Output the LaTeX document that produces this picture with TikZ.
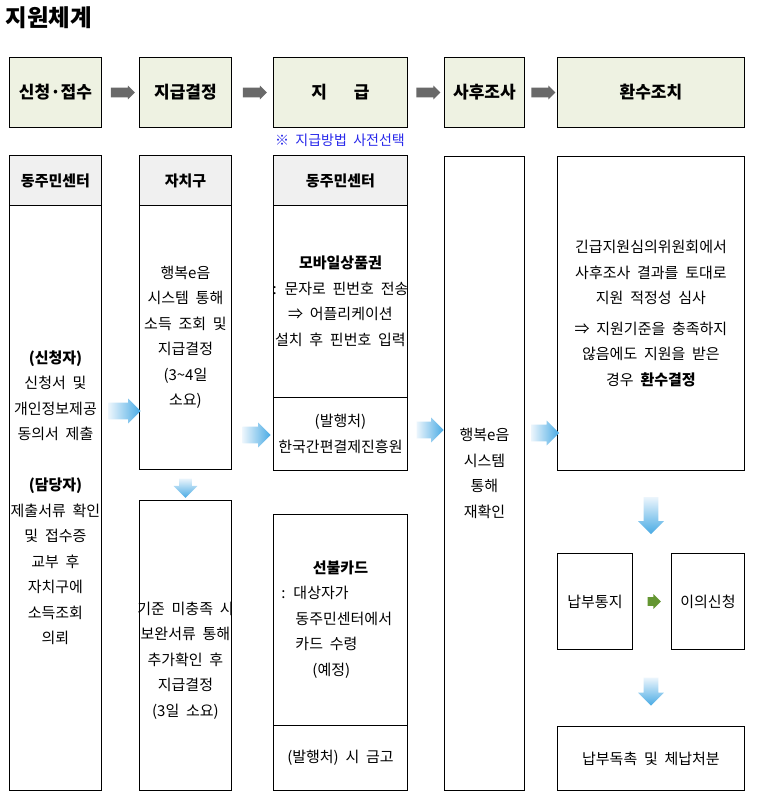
\documentclass[tikz,border=0pt]{standalone}
\usepackage{fontspec}
\setmainfont{Noto Sans CJK KR}[WordSpace=2]
\usetikzlibrary{shapes.arrows,calc}
\definecolor{stagegreen}{RGB}{238,242,226}
\definecolor{officegray}{RGB}{240,240,240}
\definecolor{arrowgray}{RGB}{105,105,105}
\definecolor{arrowblue}{RGB}{72,170,228}
\definecolor{arrowpale}{RGB}{235,245,252}
\definecolor{arrowgreen}{RGB}{100,150,50}
\definecolor{noteblue}{RGB}{40,40,235}
\tikzset{
  stage/.style={draw, fill=stagegreen, anchor=north west, inner sep=0pt, minimum height=70pt, font=\fontsize{17}{20}\selectfont\bfseries},
  office/.style={draw, fill=officegray, anchor=north west, inner sep=0pt, minimum height=50pt, font=\fontsize{15}{18}\selectfont\bfseries},
  cell/.style={draw, anchor=north west, inner sep=0pt, align=center, font=\fontsize{15}{25.5}\selectfont},
  words/.style={inner sep=0pt, align=center, font=\fontsize{15}{25.5}\selectfont},
  grayarr/.style={single arrow, draw=none, fill=arrowgray, inner sep=4.5pt, minimum height=24pt, minimum width=13pt, single arrow head extend=2pt},
  bluearr/.style={single arrow, draw=none, inner sep=8pt, minimum width=24pt, single arrow head extend=4pt, left color=arrowpale, right color=arrowblue},
  bluedown/.style={single arrow, draw=none, inner sep=7pt, minimum width=25pt, single arrow head extend=5.5pt, shape border rotate=270, top color=arrowpale, bottom color=arrowblue},
  greenarr/.style={single arrow, draw=none, fill=arrowgreen, inner sep=4pt, minimum height=12pt, minimum width=14pt, single arrow head extend=3pt}
}
\begin{document}
\begin{tikzpicture}[x=1pt, y=-1pt, line width=0.9pt]
    \path[use as bounding box, fill=white] (0,0) rectangle (756,804);

    % title and the five stages
    \node[anchor=west, inner sep=0pt, font=\fontsize{23.5}{28}\selectfont\bfseries] (title) at (5,18) {지원체계};
    \node[stage, minimum width=92pt]  (s1) at (9,57)   {신청·접수};
    \node[stage, minimum width=92pt]  (s2) at (139,57) {지급결정};
    \node[stage, minimum width=134pt] (s3) at (273,57) {지\hspace{27pt}급};
    \node[stage, minimum width=80pt]  (s4) at (444,57) {사후조사};
    \node[stage, minimum width=187pt] (s5) at (557,57) {환수조치};
    \node[inner sep=0pt, text=noteblue, font=\fontsize{14}{16}\selectfont] (memo) at (340,140) {※ 지급방법 사전선택};

    \node[grayarr] (g12) at ($(s1.east)!0.5!(s2.west)$) {};
    \node[grayarr] (g23) at ($(s2.east)!0.5!(s3.west)$) {};
    \node[grayarr] (g34) at ($(s3.east)!0.5!(s4.west)$) {};
    \node[grayarr] (g45) at ($(s4.east)!0.5!(s5.west)$) {};

    % column 1
    \node[office, minimum width=92pt] (c1head) at (9,155) {동주민센터};
    \node[cell, minimum width=92pt, minimum height=585pt] (c1body) at (9,205)
        {\textbf{(신청자)}\\신청서 및\\개인정보제공\\동의서 제출\\[25.5pt]\textbf{(담당자)}\\제출서류 확인\\및 접수증\\교부 후\\자치구에\\소득조회\\의뢰};

    % column 2
    \node[office, minimum width=92pt] (c2head) at (139,155) {자치구};
    \node[cell, minimum width=92pt, minimum height=264pt] (c2body) at (139,205)
        {행복e음\\시스템 통해\\소득 조회 및\\지급결정\\(3\textasciitilde4일\\소요)};
    \node[cell, minimum width=92pt, minimum height=290pt] (c2low) at (139,500) {};
    \node[words] (c2lowtext) at ($(c2low.center)+(0,15)$)
        {기준 미충족 시\\보완서류 통해\\추가확인 후\\지급결정\\(3일 소요)};

    % column 3
    \node[office, minimum width=134pt] (c3head) at (273,155) {동주민센터};
    \node[cell, minimum width=134pt, minimum height=192pt] (c3mob) at (273,205)
        {\textbf{모바일상품권}\\\makebox[134pt]{: 문자로 핀번호 전송}\\⇒ 어플리케이션\\설치 후 핀번호 입력};
    \node[cell, minimum width=134pt, minimum height=73pt] (c3iss) at (273,397)
        {(발행처)\\한국간편결제진흥원};
    \node[cell, minimum width=134pt, minimum height=211pt] (c3card) at (273,514) {};
    \node[words, align=left, anchor=north west] (c3cardtext) at (281,560)
        {\makebox[118pt]{\textbf{선불카드}}\\: 대상자가\\\hspace*{14pt}동주민센터에서\\\hspace*{14pt}카드 수령\\\hspace*{31pt}(예정)};
    \node[cell, minimum width=134pt, minimum height=65pt] (c3fund) at (273,725)
        {(발행처) 시 금고};

    % column 4
    \node[cell, minimum width=80pt, minimum height=634pt] (c4) at (444,156)
        {행복e음\\시스템\\통해\\재확인};

    % column 5
    \node[cell, minimum width=187pt, minimum height=314pt] (c5) at (557,156)
        {긴급지원심의위원회에서\\사후조사 결과를 토대로\\지원 적정성 심사\\[5pt]⇒ 지원기준을 충족하지\\않음에도 지원을 받은\\경우 \textbf{환수결정}};
    \node[cell, minimum width=75pt, minimum height=96pt] (n1) at (557,553) {납부통지};
    \node[cell, minimum width=73pt, minimum height=96pt] (n2) at (671,553) {이의신청};
    \node[cell, minimum width=187pt, minimum height=64pt] (n3) at (557,726) {납부독촉 및 체납처분};

    % blue flow arrows
    \coordinate (m12) at ($(c1body.east)!0.5!(c2body.west)$);
    \coordinate (m23) at ($(c2body.east)!0.5!(c3mob.west)$);
    \coordinate (m34) at ($(c3mob.east)!0.5!(c4.west)$);
    \coordinate (m45) at ($(c4.east)!0.5!(c5.west)$);
    \node[bluearr, minimum height=32pt] (b12) at (m12 |- 0,411) {};
    \node[bluearr, minimum height=28pt] (b23) at (m23 |- 0,435) {};
    \node[bluearr, minimum height=27pt] (b34) at (m34 |- 0,430) {};
    \node[bluearr, minimum height=28pt] (b45) at (m45 |- 0,433) {};
    \node[bluedown, minimum height=18pt, minimum width=22pt, inner sep=6pt] (d2) at ($(c2body.south)!0.5!(c2low.north)$) {};
    \node[bluedown, minimum height=37pt] (d51) at ($(c5.south)!0.5!(c5.south |- n1.north)$) {};
    \node[bluedown, minimum height=28pt] (d52) at ($(n1.south -| c5.south)!0.5!(c5.south |- n3.north)$) {};
    \node[greenarr] (gn) at ($(n1.east)!0.5!(n2.west)$) {};
\end{tikzpicture}
\end{document}
